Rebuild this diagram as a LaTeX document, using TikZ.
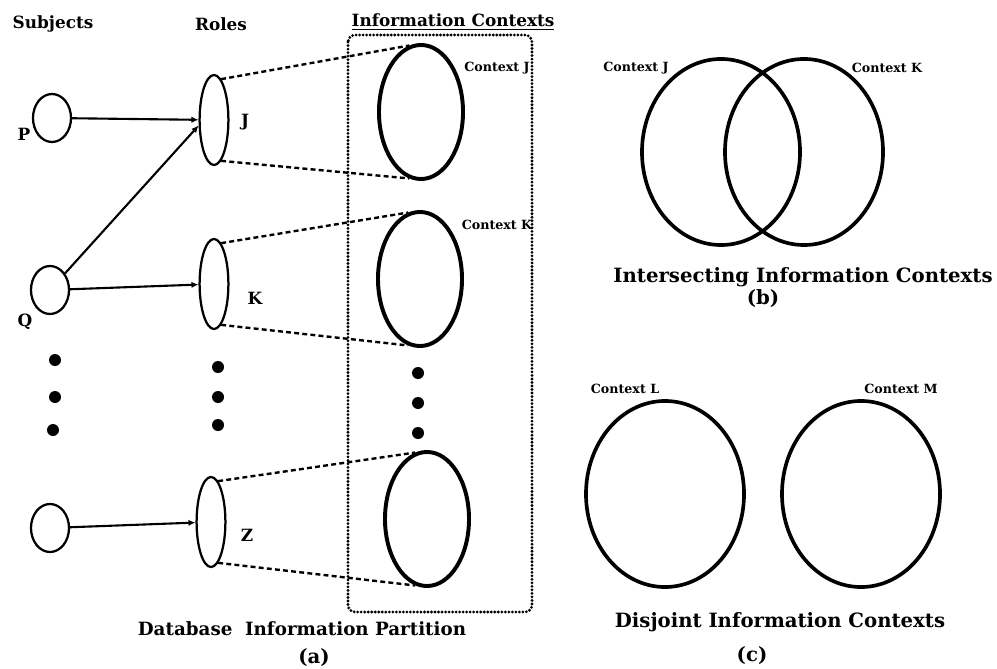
\documentclass[tikz,border=0pt]{standalone}
\usepackage{fontspec}
\setmainfont{DejaVu Serif}
\usetikzlibrary{shapes.geometric,arrows.meta}
\begin{document}
\begin{tikzpicture}[x=0.025cm,y=-0.025cm,
  every node/.style={font=\bfseries},
  subj/.style={ellipse,draw,line width=1.6pt,inner sep=0pt,minimum width=0.95cm,minimum height=1.2cm},
  role/.style={ellipse,draw,line width=1.6pt,inner sep=0pt,minimum width=0.72cm,minimum height=2.25cm},
  ctx/.style={ellipse,draw,line width=2.8pt,inner sep=0pt,minimum width=2.1cm,minimum height=3.35cm},
  big/.style={ellipse,draw,line width=2.6pt,inner sep=0pt,minimum width=3.95cm,minimum height=4.65cm},
  head/.style={font=\bfseries\fontsize{12}{14}\selectfont},
  captext/.style={font=\bfseries\fontsize{14}{16}\selectfont},
  lbl/.style={font=\bfseries\fontsize{12}{14}\selectfont},
  clbl/.style={font=\bfseries\fontsize{9}{10}\selectfont},
  assign/.style={line width=1.5pt,-{Latex[length=5pt,width=4.5pt]}},
  proj/.style={line width=1.7pt,dash pattern=on 3.5pt off 2.3pt},
  dotbox/.style={line width=2.2pt,dash pattern=on 0pt off 2.5pt,line cap=round,rounded corners=5pt},
  vdot/.style={circle,fill,inner sep=0pt,minimum size=0.3cm}
]
\useasboundingbox (0,0) rectangle (997,669);
\fill[white] (0,0) rectangle (997,669);

% headings
\node[head] (hs) at (53,24) {Subjects};
\node[head] (hr) at (221,24) {Roles};
\node[head] (hc) at (453,22) {\underline{Information Contexts}};

% dotted partition box
\draw[dotbox] (348,35) rectangle (532,612);

% subjects
\node[subj] (P) at (52,118) {};
\node[subj] (Q) at (50,290) {};
\node[subj] (S) at (50,528) {};
\node[lbl] (lP) at (24,134) {P};
\node[lbl] (lQ) at (25,322) {Q};

% roles
\node[role] (J) at (214,120) {};
\node[role] (K) at (214,284) {};
\node[role] (Z) at (211,522) {};
\node[lbl] (lJ) at (245,122) {J};
\node[lbl] (lK) at (255,298) {K};
\node[lbl] (lZ) at (247,535) {Z};

% contexts
\node[ctx] (CJ) at (421,112) {};
\node[ctx] (CK) at (420,279) {};
\node[ctx] (CZ) at (427,519) {};
\node[clbl] (lCJ) at (497,68) {Context J};
\node[clbl] (lCK) at (497,225) {Context K};

% assignments
\draw[assign] (P) -- (J);
\draw[assign] (Q) -- (J.200);
\draw[assign] (Q) -- (K);
\draw[assign] (S) -- (Z);

% projections
\draw[proj] (J.80) -- (CJ.100);
\draw[proj] (J.-80) -- (CJ.-100);
\draw[proj] (K.80) -- (CK.100);
\draw[proj] (K.-80) -- (CK.-100);
\draw[proj] (Z.80) -- (CZ.100);
\draw[proj] (Z.-80) -- (CZ.-100);

% vertical dots
\node[vdot] (d1) at (55,360) {};
\node[vdot] (d2) at (55,397) {};
\node[vdot] (d3) at (53,430) {};
\node[vdot] (d4) at (218,367) {};
\node[vdot] (d5) at (218,397) {};
\node[vdot] (d6) at (218,425) {};
\node[vdot] (d7) at (418,373) {};
\node[vdot] (d8) at (418,403) {};
\node[vdot] (d9) at (418,433) {};

\node[font=\bfseries\fontsize{13}{15}\selectfont] (ca) at (302,629) {Database\ \ Information Partition};
\node[captext] (pa) at (314,658) {(a)};

% (b) intersecting
\node[big] (IJ) at (721,152) {};
\node[big] (IK) at (804,152) {};
\node[clbl] (lIJ) at (636,68) {Context J};
\node[clbl] (lIK) at (887,68) {Context K};
\node[captext] (cb) at (803,277) {Intersecting Information Contexts};
\node[captext] (pb) at (763,299) {(b)};

% (c) disjoint
\node[big] (DL) at (665,494) {};
\node[big] (DM) at (861,494) {};
\node[clbl] (lDL) at (625,389) {Context L};
\node[clbl] (lDM) at (901,389) {Context M};
\node[captext] (cc) at (780,622) {Disjoint Information Contexts};
\node[captext] (pc) at (752,656) {(c)};
\end{tikzpicture}
\end{document}
